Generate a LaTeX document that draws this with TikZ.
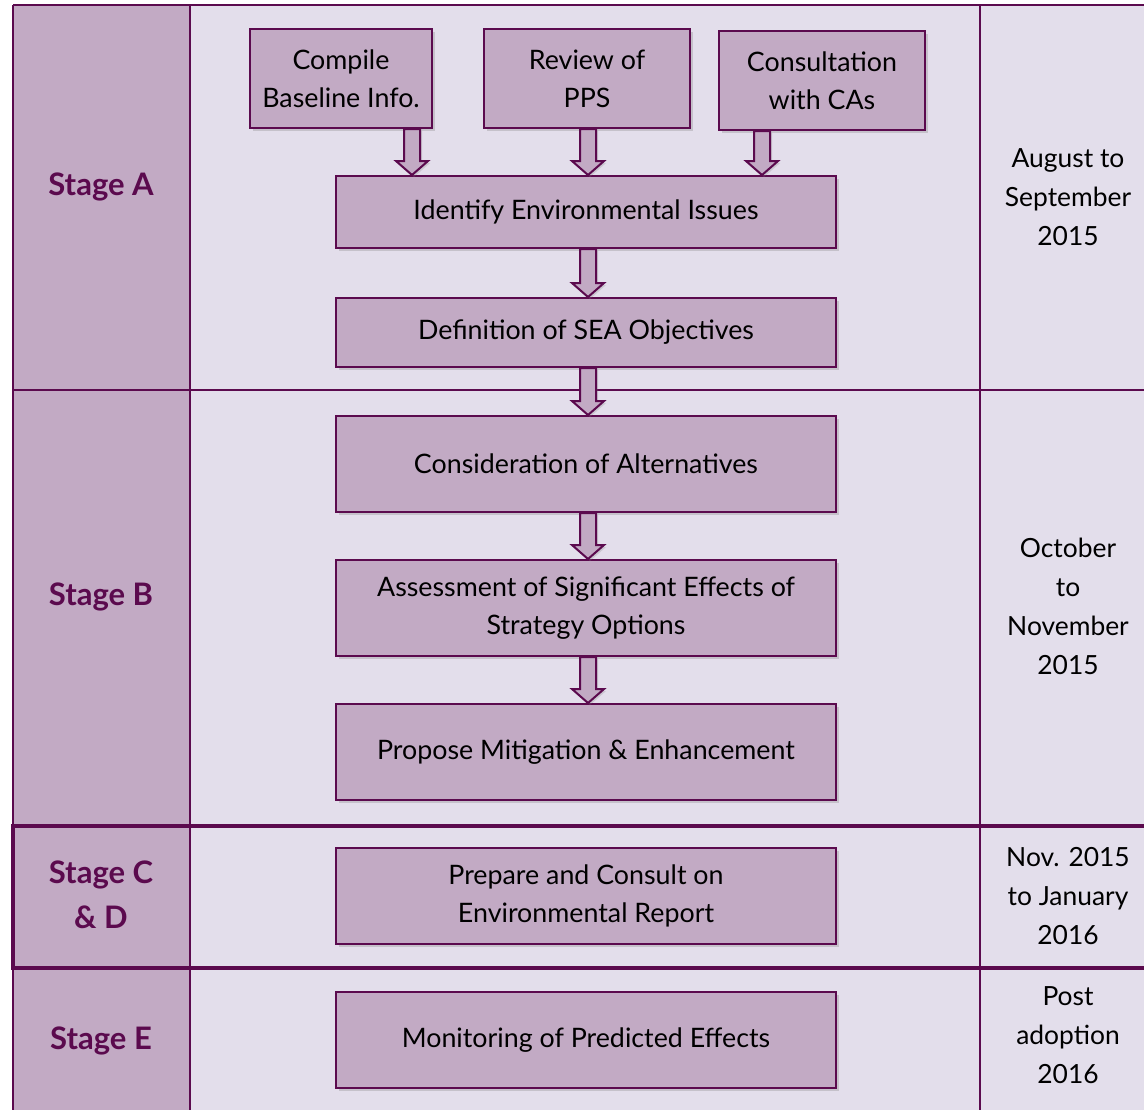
\documentclass[tikz,border=0pt]{standalone}
\usepackage{fontspec}
\setmainfont{Lato}
\usepackage{xcolor}
\usetikzlibrary{positioning,calc,shadows}
\definecolor{plum}{HTML}{5B0A4E}
\definecolor{stagefill}{HTML}{C2AAC4}
\definecolor{panelfill}{HTML}{E3DEEB}
% hollow block arrow: from node, to node, x offset from the target centre
\newcommand{\stagearrow}[3]{%
  \coordinate (tip) at ($(#2.north)+(#3,0)$);
  \coordinate (tail) at ($(#1.south -| #2.north)+(#3,0)$);
  \draw[flowarrow] ($(tail)+(-8,0)$) -- ($(tip)+(-8,-14)$) -- ($(tip)+(-16,-14)$) -- (tip)
    -- ($(tip)+(16,-14)$) -- ($(tip)+(8,-14)$) -- ($(tail)+(8,0)$) -- cycle;
}

\begin{document}
\begin{tikzpicture}[x=0.5pt,y=-0.5pt,
    box/.style={draw=plum, line width=1pt, fill=stagefill, align=center, inner sep=0pt,
      font=\fontsize{13.4}{19}\selectfont,
      drop shadow={shadow xshift=1.5pt, shadow yshift=-1.5pt, opacity=0.3}},
    stage/.style={text=plum, align=center, font=\bfseries\fontsize{15.5}{22.5}\selectfont},
    date/.style={align=center, font=\fontsize{13.2}{19.5}\selectfont},
    flowarrow/.style={draw=plum, line width=1pt, fill=stagefill, line join=miter,
      drop shadow={shadow xshift=1pt, shadow yshift=-1pt, opacity=0.25}},
    thin/.style={draw=plum, line width=1.1pt},
    thick/.style={draw=plum, line width=2.4pt}]
    \useasboundingbox (0,0) rectangle (1144,1109);

    % Table
    \fill[panelfill] (190,5) rectangle (1150,1115);
    \fill[stagefill] (13,5) rectangle (190,1115);
    \foreach \y in {5,390} {
        \draw[thin] (13,\y) -- (1150,\y);
    }
    \foreach \x in {13,190,980} {
        \draw[thin] (\x,5) -- (\x,1115);
    }
    \draw[thick] (1150,826) -- (13,826) -- (13,968) -- (1150,968);

    % Stages
    \node[stage] (stageA) at (101,187) {Stage A};
    \node[stage] (stageB) at (101,597) {Stage B};
    \node[stage] (stageCD) at (101,895) {Stage C\\\& D};
    \node[stage] (stageE) at (101,1041) {Stage E};

    % Dates
    \node[date] (dateA) at (1068,197) {August to\\September\\2015};
    \node[date] (dateB) at (1068,606) {October\\to\\November\\2015};
    \node[date] (dateCD) at (1068,896) {Nov. 2015\\to January\\2016};
    \node[date] (dateE) at (1068,1035) {Post\\adoption\\2016};

    % Steps
    \node[box, minimum width=91pt, minimum height=49.5pt] (compile) at (341,78.5) {Compile\\Baseline Info.};
    \node[box, minimum width=103pt, minimum height=49.5pt] (review) at (587,78.5) {Review of\\PPS};
    \node[box, minimum width=103pt, minimum height=49.5pt] (consult) at (822,80.5) {Consultation\\with CAs};
    \node[box, minimum width=250pt, minimum height=36pt] (identify) at (586,212) {Identify Environmental Issues};
    \node[box, minimum width=250pt, minimum height=34.5pt] (define) at (586,332.5) {Definition of SEA Objectives};
    \node[box, minimum width=250pt, minimum height=48pt] (consider) at (586,464) {Consideration of Alternatives};
    \node[box, minimum width=250pt, minimum height=48pt] (assess) at (586,608) {Assessment of Significant Effects of\\Strategy Options};
    \node[box, minimum width=250pt, minimum height=48pt] (propose) at (586,752) {Propose Mitigation \& Enhancement};
    \node[box, minimum width=250pt, minimum height=48pt] (prepare) at (586,896) {Prepare and Consult on\\Environmental Report};
    \node[box, minimum width=250pt, minimum height=48pt] (monitor) at (586,1040) {Monitoring of Predicted Effects};

    % Arrows
    \foreach \src/\dst/\dx in {compile/identify/-174, review/identify/2, consult/identify/176,
        identify/define/2, define/consider/2, consider/assess/2, assess/propose/2} {
        \stagearrow{\src}{\dst}{\dx}
    }
\end{tikzpicture}
\end{document}
